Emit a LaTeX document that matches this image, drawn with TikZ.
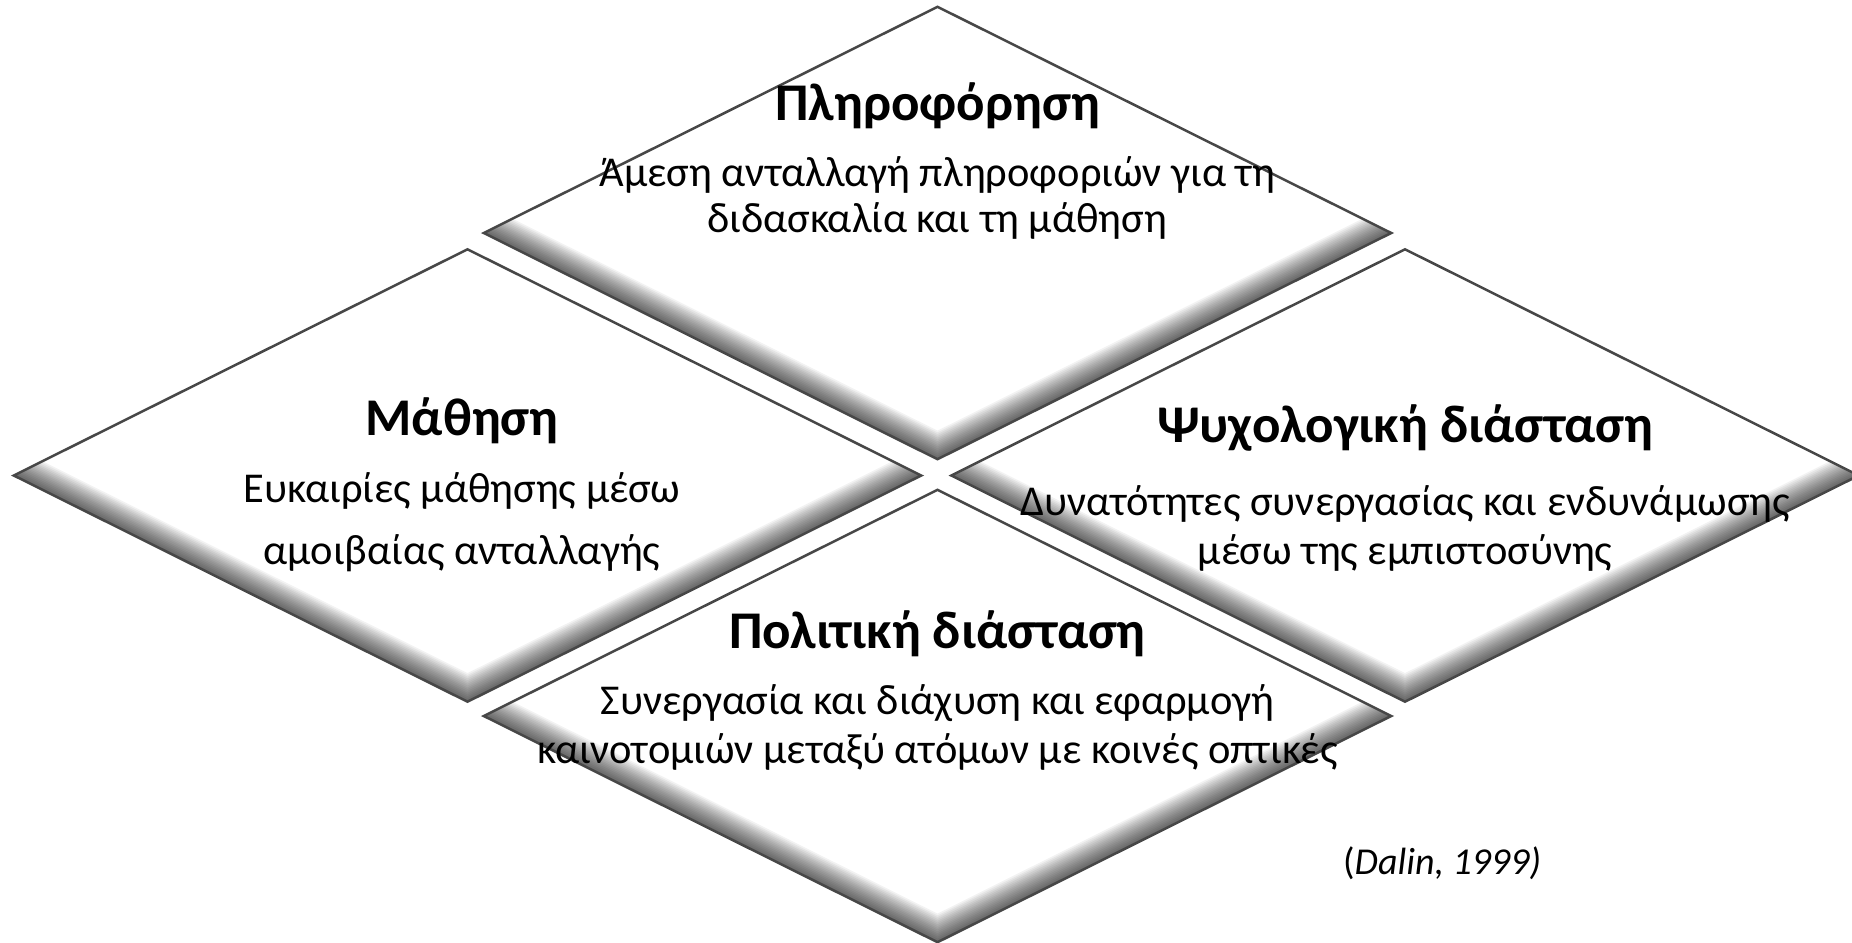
\documentclass[tikz,border=0pt]{standalone}
\usepackage{fontspec}
\setmainfont{Carlito}
\usetikzlibrary{shapes.geometric}
\tikzset{
  dmd/.style={diamond, minimum width=907bp, minimum height=452bp, inner sep=0pt, draw=none, fill=white},
  ttl/.style={anchor=base, inner sep=0pt, font=\fontsize{53bp}{60bp}\selectfont\bfseries},
  bdy/.style={anchor=base, inner sep=0pt, font=\fontsize{42.5bp}{50bp}\selectfont},
  citetxt/.style={anchor=base west, inner sep=0pt, font=\fontsize{38bp}{46bp}\selectfont},
  dmdedge/.style={draw=black!72, line width=2.5bp, line join=miter},
  shadestroke/.style={draw=black, opacity=0.05, line join=miter, shorten <=-40bp, shorten >=-40bp},
}
\newcommand\shadedmd[1]{%
  \begin{scope}
    \clip (#1.north) -- (#1.east) -- (#1.south) -- (#1.west) -- cycle;
    \foreach \k in {1,...,16} {
      \draw[shadestroke, line width=\k*3.2bp] (#1.west) -- (#1.south) -- (#1.east);
    }
  \end{scope}
  \draw[dmdedge] (#1.north) -- (#1.east) -- (#1.south) -- (#1.west) -- cycle;
}
\begin{document}
\begin{tikzpicture}[x=1bp,y=-1bp]
  \fill[white] (0,0) rectangle (1852,942);
  \useasboundingbox (0,0) rectangle (1852,942);

  \node[dmd] (dtop) at (937.5,233) {};
  \node[dmd] (dleft) at (467.5,475.5) {};
  \node[dmd] (dright) at (1405,475.5) {};
  \node[dmd] (dbot) at (937.5,716) {};
  \shadedmd{dtop}
  \shadedmd{dleft}
  \shadedmd{dright}
  \shadedmd{dbot}

  % top
  \node[ttl] (t1) at (937.5,120) {Πληροφόρηση};
  \node[bdy] (b1a) at (937.5,186) {Άμεση ανταλλαγή πληροφοριών για τη};
  \node[bdy] (b1b) at (937.5,232) {διδασκαλία και τη μάθηση};
  % left
  \node[ttl] (t2) at (462,435) {Μάθηση};
  \node[bdy] (b2a) at (462,502) {Ευκαιρίες μάθησης μέσω};
  \node[bdy] (b2b) at (462,564) {αμοιβαίας ανταλλαγής};
  % right
  \node[ttl] (t3) at (1405,442) {Ψυχολογική διάσταση};
  \node[bdy] (b3a) at (1405,515) {Δυνατότητες συνεργασίας και ενδυνάμωσης};
  \node[bdy] (b3b) at (1405,564) {μέσω της εμπιστοσύνης};
  % bottom
  \node[ttl] (t4) at (937.5,648) {Πολιτική διάσταση};
  \node[bdy] (b4a) at (937.5,714) {Συνεργασία και διάχυση και εφαρμογή};
  \node[bdy] (b4b) at (937.5,763) {καινοτομιών μεταξύ ατόμων με κοινές οπτικές};
  % citation
  \node[citetxt] (cite) at (1343,874) {(\textit{Dalin, 1999)}};
\end{tikzpicture}
\end{document}
